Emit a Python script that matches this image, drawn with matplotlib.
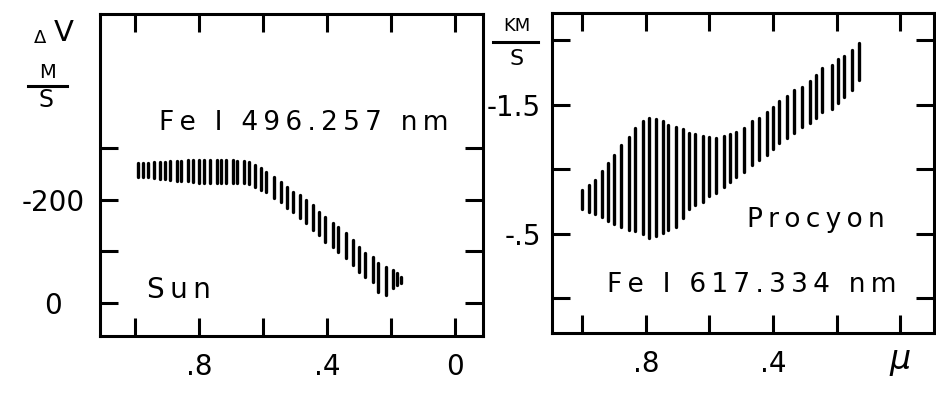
import numpy as np
import matplotlib
matplotlib.use('Agg')
import matplotlib.pyplot as plt
from matplotlib.lines import Line2D

#------------------------------
#   Data
#------------------------------

# Sun, Fe I 496.257 nm : bisector span (m/s) at each mu
sun_mu = [0.99, 0.975, 0.96, 0.94, 0.92, 0.905, 0.89, 0.87, 0.855, 0.835,
          0.82, 0.80, 0.785, 0.765, 0.745, 0.73, 0.715, 0.695, 0.68, 0.66,
          0.645, 0.625, 0.605, 0.59, 0.565, 0.545, 0.525, 0.505, 0.485, 0.465,
          0.445, 0.425, 0.405, 0.38, 0.365, 0.34, 0.32, 0.30, 0.28, 0.255,
          0.24, 0.215, 0.195, 0.18, 0.17]
sun_top = [-271, -271, -271, -273, -273, -273, -275, -275, -275, -277,
           -277, -277, -277, -277, -277, -277, -277, -277, -275, -275,
           -273, -267, -261, -253, -244, -234, -224, -215, -209, -199,
           -190, -176, -166, -155, -147, -135, -122, -108, -97, -89,
           -77, -70, -64, -58, -50]
sun_bottom = [-244, -244, -244, -242, -240, -240, -238, -236, -236, -236,
              -234, -232, -232, -232, -232, -232, -232, -232, -232, -232,
              -230, -224, -219, -215, -203, -195, -184, -176, -164, -155,
              -141, -132, -118, -108, -99, -87, -74, -60, -50, -41,
              -21, -15, -29, -35, -39]

# Procyon, Fe I 617.334 nm : bisector span (km/s) at each mu
pro_mu = [1.00, 0.98, 0.96, 0.94, 0.92, 0.90, 0.88, 0.855, 0.835, 0.81,
          0.79, 0.77, 0.745, 0.73, 0.705, 0.685, 0.665, 0.645, 0.62, 0.60,
          0.58, 0.555, 0.535, 0.515, 0.49, 0.465, 0.445, 0.42, 0.40, 0.38,
          0.355, 0.335, 0.31, 0.285, 0.265, 0.245, 0.215, 0.195, 0.175, 0.15,
          0.13]
pro_top = [-0.84, -0.88, -0.92, -0.99, -1.05, -1.11, -1.19, -1.25, -1.32, -1.37,
           -1.40, -1.39, -1.37, -1.34, -1.33, -1.31, -1.28, -1.27, -1.26, -1.25,
           -1.24, -1.26, -1.27, -1.29, -1.32, -1.37, -1.40, -1.44, -1.48, -1.53,
           -1.57, -1.61, -1.64, -1.68, -1.73, -1.78, -1.81, -1.85, -1.88, -1.92,
           -1.98]
pro_bottom = [-0.69, -0.67, -0.65, -0.63, -0.60, -0.58, -0.55, -0.53, -0.52, -0.50,
              -0.47, -0.48, -0.51, -0.53, -0.55, -0.62, -0.69, -0.72, -0.75, -0.79,
              -0.82, -0.86, -0.90, -0.94, -0.98, -1.03, -1.07, -1.11, -1.16, -1.20,
              -1.24, -1.28, -1.33, -1.36, -1.40, -1.44, -1.47, -1.51, -1.56, -1.61,
              -1.69]

mu_ticks = [1.0, 0.8, 0.6, 0.4, 0.2, 0.0]
sun_xlabels = ['', '.8', '', '.4', '', '0']
pro_xlabels = ['', '.8', '', '.4', '', '']
sun_yticks = [-300, -200, -100, 0]
sun_ylabels = ['', '-200', '', '0']
pro_yticks = [-2.0, -1.5, -1.0, -0.5, 0.0]
pro_ylabels = ['', '-1.5', '', '-.5', '']

#---------------------
#   Figure and axes
#---------------------

W, H = 937, 394
fig = plt.figure(figsize=(W / 100, H / 100), dpi=100)
fig.patch.set_facecolor('white')

def px_box(x0, y0, x1, y1):
    return [x0 / W, 1 - y1 / H, (x1 - x0) / W, (y1 - y0) / H]

def fx(x):
    return x / W

def fy(y):
    return 1 - y / H

ax1 = fig.add_axes(px_box(100, 14, 483, 336))
ax2 = fig.add_axes(px_box(552, 13, 934, 333))

LW = 2.2
FS = 20

for ax in (ax1, ax2):
    for sp in ax.spines.values():
        sp.set_linewidth(LW)
    ax.tick_params(direction='in', length=13, width=LW, top=True, right=True,
                   labelsize=FS)
    ax.set_xticks(mu_ticks)

#---------------- Sun panel ----------------#
ax1.vlines(sun_mu, sun_top, sun_bottom, colors='black', linewidth=2.4,
           capstyle='round')
ax1.set_xlim(1.109, -0.0875)
ax1.set_ylim(64, -559)
ax1.set_xticklabels(sun_xlabels)
ax1.set_yticks(sun_yticks)
ax1.set_yticklabels(sun_ylabels, ha='center')
ax1.tick_params(axis='x', pad=12)
ax1.tick_params(axis='y', pad=34)

#---------------- Procyon panel ----------------#
ax2.vlines(pro_mu, pro_top, pro_bottom, colors='black', linewidth=2.4,
           capstyle='round')
ax2.set_xlim(1.096, -0.107)
ax2.set_ylim(0.267, -2.209)
ax2.set_xticklabels(pro_xlabels)
ax2.set_yticks(pro_yticks)
ax2.set_yticklabels(pro_ylabels)
ax2.tick_params(axis='x', pad=12)
ax2.tick_params(axis='y', pad=8)

#---------------- Annotations ----------------#
TS = '\u2009'

def spaced(s):
    return TS.join(s)

fig.text(fx(304), fy(123), spaced('Fe I 496.257 nm'), fontsize=19,
         ha='center', va='center')
fig.text(fx(179), fy(290), spaced('Sun'), fontsize=20, ha='center', va='center')
fig.text(fx(816), fy(220), spaced('Procyon'), fontsize=19, ha='center', va='center')
fig.text(fx(752), fy(285), spaced('Fe I 617.334 nm'), fontsize=19,
         ha='center', va='center')

# axis units, hand-lettered style
fig.text(fx(40), fy(38), '\u0394', fontsize=13, ha='center', va='center')
fig.text(fx(64), fy(33), 'V', fontsize=21, ha='center', va='center')
fig.text(fx(48), fy(72), 'M', fontsize=14, ha='center', va='center')
fig.text(fx(46), fy(100), 'S', fontsize=17, ha='center', va='center')
fig.add_artist(Line2D([fx(28), fx(67)], [fy(86), fy(86)], color='black',
                      linewidth=LW, transform=fig.transFigure))

fig.text(fx(517), fy(26), 'KM', fontsize=13, ha='center', va='center')
fig.text(fx(517), fy(59), 'S', fontsize=16, ha='center', va='center')
fig.add_artist(Line2D([fx(493), fx(538)], [fy(42), fy(42)], color='black',
                      linewidth=LW, transform=fig.transFigure))

fig.text(fx(900), fy(360), '\u03bc', fontsize=24, style='italic',
         ha='center', va='center')

plt.savefig('out.png', dpi=100, facecolor='white')
